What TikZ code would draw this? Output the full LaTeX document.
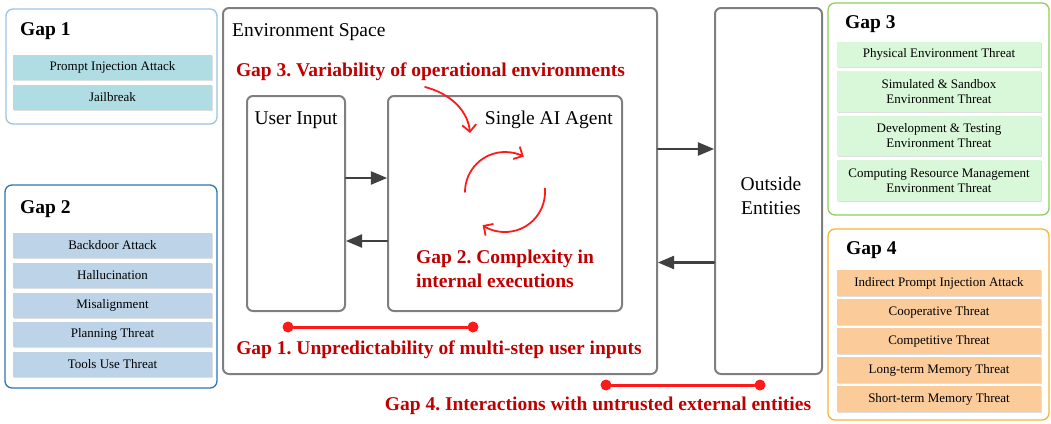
\documentclass[tikz,border=0pt]{standalone}
\usepackage{fontspec}
\setmainfont{Liberation Serif}
\usetikzlibrary{arrows,arrows.meta,shadows}
\definecolor{gapred}{HTML}{C00000}
\definecolor{brightred}{HTML}{FF1A1A}
\definecolor{boxgray}{HTML}{7F7F7F}
\definecolor{arrowgray}{HTML}{404040}
\definecolor{oneborder}{HTML}{9DC3E6}
\definecolor{onefill}{HTML}{B0DDE3}
\definecolor{twoborder}{HTML}{2E75B6}
\definecolor{twofill}{HTML}{BDD3E7}
\definecolor{threeborder}{HTML}{8ED05A}
\definecolor{threefill}{HTML}{D9F7D9}
\definecolor{fourborder}{HTML}{F7B536}
\definecolor{fourfill}{HTML}{FCCB9A}
\frenchspacing

\begin{document}
\begin{tikzpicture}[line cap=round,line join=round,>=triangle 45,x=1pt,y=-1pt,
  panel/.style={draw,rounded corners=7pt,line width=1.3pt,fill=white,inner sep=0pt},
  graybox/.style={draw=boxgray,rounded corners=6pt,line width=2pt,inner sep=0pt},
  item/.style={inner sep=1pt,align=center,font=\fontsize{13}{15}\selectfont,
    drop shadow={shadow xshift=1pt,shadow yshift=-1pt,opacity=0.25}},
  head/.style={anchor=west,inner sep=0pt,font=\fontsize{19.5}{22}\selectfont\bfseries},
  big/.style={inner sep=0pt,font=\fontsize{19.5}{24}\selectfont},
  gaptext/.style={inner sep=0pt,text=gapred,font=\fontsize{19.5}{24}\selectfont\bfseries},
  grayarrow/.style={->,draw=arrowgray,line width=2.8pt},
  redarrow/.style={-{Straight Barb[length=7pt,width=14pt,line width=1.8pt]},draw=brightred,line width=1.8pt},
  redline/.style={draw=brightred,line width=3pt},
  dot/.style={circle,fill=brightred,inner sep=0pt,minimum size=11pt}]
\useasboundingbox (0,0) rectangle (1051,423);

% central boxes
\node[graybox,minimum width=434pt,minimum height=366pt] (env) at (440,191) {};
\node[graybox,minimum width=107pt,minimum height=366pt] (outside) at (768.5,191) {};
\node[graybox,minimum width=98pt,minimum height=215pt] (ui) at (296,203.5) {};
\node[graybox,minimum width=234pt,minimum height=215pt] (agent) at (505,203.5) {};
\node[big,anchor=west] (envlabel) at (232,32) {Environment Space};
\node[big] (uilabel) at (296,120) {User Input};
\node[big,anchor=east] (agentlabel) at (613,120) {Single AI Agent};
\node[big,align=center] (outlabel) at (771,196) {Outside\\Entities};

% arrows between boxes
\draw[grayarrow] ([yshift=25.5pt]ui.east) -- ([yshift=25.5pt]agent.west);
\draw[grayarrow] ([yshift=-37.5pt]agent.west) -- ([yshift=-37.5pt]ui.east);
\draw[grayarrow] ([yshift=42pt]env.east) -- ([yshift=42pt]outside.west);
\draw[grayarrow] ([yshift=-71.5pt]outside.west) -- ([yshift=-71.5pt]env.east);

% gaps in the middle
\node[gaptext] (gapthree) at (430.5,72) {Gap 3. Variability of operational environments};
\coordinate (gtstart) at (425,87);
\coordinate (gtend) at (470,133);
\draw[redarrow] (gtstart) .. controls (452,94) and (468,112) .. (gtend);
\coordinate (loop) at (505,192);
\draw[redarrow] ([shift={(180:40)}]loop) arc[start angle=180,end angle=298,radius=40];
\draw[redarrow] ([shift={(-5:40)}]loop) arc[start angle=-5,end angle=124,radius=40];
\node[gaptext,align=left,anchor=north west] (gaptwo) at (416,250) {Gap 2. Complexity in\\internal executions};
\node[dot] (gonea) at (288,327) {};
\node[dot] (goneb) at (473,327) {};
\draw[redline] (gonea) -- (goneb);
\node[gaptext] (gapone) at (439,350) {Gap 1. Unpredictability of multi-step user inputs};
\node[dot] (gfoura) at (606,385) {};
\node[dot] (gfourb) at (760,385) {};
\draw[redline] (gfoura) -- (gfourb);
\node[gaptext] (gapfour) at (598,406) {Gap 4. Interactions with untrusted external entities};

% gap 1 panel
\node[panel,draw=oneborder,minimum width=211pt,minimum height=115pt] (pone) at (111.5,66.5) {};
\node[head] (headone) at (20,31) {Gap 1};
\foreach \txt [count=\i] in {Prompt Injection Attack,Jailbreak}
  \node[item,fill=onefill,minimum width=199pt,minimum height=25pt] (one\i) at (112.5,{37.5+30*\i}) {\txt};

% gap 2 panel
\node[panel,draw=twoborder,minimum width=212pt,minimum height=203pt] (ptwo) at (111,286.5) {};
\node[head] (headtwo) at (20,209) {Gap 2};
\foreach \txt [count=\i] in {Backdoor Attack,Hallucination,Misalignment,Planning Threat,Tools Use Threat}
  \node[item,fill=twofill,minimum width=199pt,minimum height=25pt] (two\i) at (112.5,{215.75+29.75*\i}) {\txt};

% gap 3 panel
\node[panel,draw=threeborder,minimum width=221pt,minimum height=212pt] (pthree) at (938.5,109) {};
\node[head] (headthree) at (845,24) {Gap 3};
\node[item,fill=threefill,minimum width=204pt,minimum height=25pt] (three1) at (939,54.5) {Physical Environment Threat};
\node[item,fill=threefill,minimum width=204pt,minimum height=41pt] (three2) at (939,91.5) {Simulated \& Sandbox\\Environment Threat};
\node[item,fill=threefill,minimum width=204pt,minimum height=40pt] (three3) at (939,136) {Development \& Testing\\Environment Threat};
\node[item,fill=threefill,minimum width=204pt,minimum height=41pt] (three4) at (939,180.5) {Computing Resource Management\\Environment Threat};

% gap 4 panel
\node[panel,draw=fourborder,minimum width=221pt,minimum height=191pt] (pfour) at (938.5,324.5) {};
\node[head] (headfour) at (846,250) {Gap 4};
\foreach \txt [count=\i] in {Indirect Prompt Injection Attack,Cooperative Threat,Competitive Threat,Long-term Memory Threat,Short-term Memory Threat}
  \node[item,fill=fourfill,minimum width=204pt,minimum height=26pt] (four\i) at (939,{253.9+29.1*\i}) {\txt};
\end{tikzpicture}
\end{document}
